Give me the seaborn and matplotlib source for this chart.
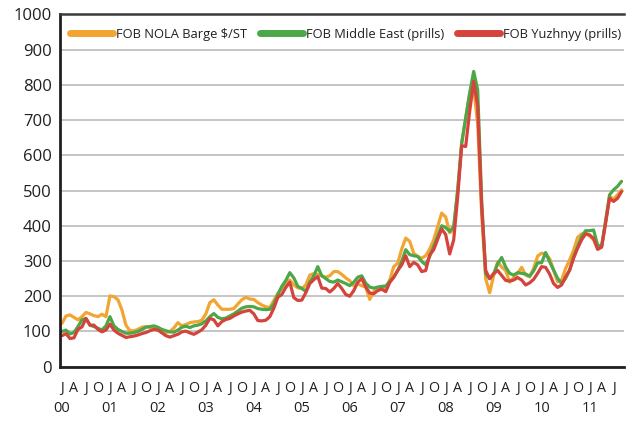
import pandas as pd
import matplotlib.pyplot as plt
import seaborn as sns

# monthly urea prices, Jan 2000 - Sep 2011 ($/t)
months = pd.date_range('2000-01-01', periods=141, freq='MS')

nola = [123, 144, 147, 140, 133, 142, 154, 150, 145, 142, 149, 142,
        201, 199, 190, 161, 118, 102, 102, 106, 112, 114, 112, 109,
        104, 98, 97, 100, 110, 125, 116, 120, 125, 127, 128, 132,
        150, 182, 190, 175, 163, 163, 163, 165, 178, 190, 197, 192,
        191, 182, 175, 170, 168, 188, 208, 222, 238, 246, 232, 224,
        222, 232, 260, 264, 262, 258, 254, 258, 270, 270, 262, 252,
        244, 230, 235, 230, 226, 191, 213, 223, 226, 220, 246, 284,
        294, 334, 365, 356, 322, 313, 308, 315, 334, 360, 398, 436,
        425, 380, 389, 500, 634, 706, 775, 790, 690, 435, 250, 210,
        259, 297, 283, 273, 240, 253, 265, 282, 260, 255, 279, 314,
        322, 320, 307, 274, 241, 246, 279, 303, 331, 367, 377, 379,
        371, 360, 336, 341, 412, 483, 476, 488, 502]

middle_east = [100, 104, 93, 97, 114, 133, 137, 118, 114, 109, 104, 116,
               142, 116, 106, 100, 95, 95, 97, 100, 106, 112, 114, 116,
               112, 106, 102, 99, 98, 104, 112, 115, 111, 116, 118, 122,
               130, 142, 151, 140, 136, 138, 144, 150, 158, 166, 170, 171,
               170, 165, 163, 162, 163, 178, 205, 228, 245, 267, 252, 228,
               222, 214, 240, 258, 284, 258, 250, 242, 240, 246, 241, 236,
               230, 240, 254, 258, 237, 226, 223, 226, 228, 229, 242, 254,
               273, 299, 332, 318, 315, 313, 299, 289, 313, 341, 370, 400,
               395, 384, 398, 501, 634, 706, 777, 838, 786, 473, 264, 250,
               264, 292, 310, 283, 265, 260, 267, 265, 263, 257, 272, 295,
               295, 324, 298, 274, 251, 236, 251, 274, 312, 341, 369, 386,
               386, 388, 345, 341, 412, 488, 502, 512, 526]

yuzhnyy = [88, 94, 80, 82, 106, 113, 137, 118, 118, 106, 99, 104,
           121, 104, 95, 89, 83, 85, 87, 90, 94, 97, 102, 106,
           104, 96, 88, 84, 88, 92, 99, 101, 96, 92, 98, 105,
           118, 137, 133, 116, 128, 134, 137, 144, 150, 155, 158, 160,
           150, 131, 130, 132, 142, 166, 197, 205, 225, 240, 196, 188,
           189, 210, 236, 247, 256, 223, 222, 212, 222, 236, 222, 205,
           200, 216, 240, 250, 226, 209, 207, 216, 220, 213, 239, 254,
           273, 289, 315, 284, 296, 289, 270, 273, 318, 332, 362, 391,
           375, 320, 360, 482, 627, 625, 725, 810, 739, 454, 273, 250,
           264, 273, 259, 245, 243, 246, 253, 246, 232, 238, 248, 265,
           284, 282, 263, 236, 225, 232, 255, 274, 308, 336, 360, 377,
           374, 364, 333, 339, 407, 478, 469, 478, 497]

series_names = ['FOB NOLA Barge $/ST', 'FOB Middle East (prills)',
                'FOB Yuzhnyy (prills)']
colors = ['#F2A530', '#4CA749', '#D5443C']

wide = pd.DataFrame({'month': range(len(months)),
                     series_names[0]: nola,
                     series_names[1]: middle_east,
                     series_names[2]: yuzhnyy})
df = wide.melt(id_vars='month', var_name='series', value_name='price')

sns.set_theme(style='white')
plt.rcParams['font.family'] = ['Open Sans', 'DejaVu Sans']
text_col = '#231f20'

fig, ax = plt.subplots(figsize=(6.38, 4.22), dpi=100)
fig.subplots_adjust(left=0.094, right=0.978, top=0.966, bottom=0.131)

sns.lineplot(data=df, x='month', y='price', hue='series',
             hue_order=series_names, palette=colors, linewidth=2.3, ax=ax)

ax.set_xlim(-0.5, 140.6)
ax.set_ylim(0, 1000)
ax.set_yticks(range(0, 1001, 100))
ax.yaxis.grid(True, color='#b5b5b5', linewidth=1.1)
ax.xaxis.grid(False)
ax.set_axisbelow(True)

# quarterly ticks J A J O; year labels as minor ticks under each January
qticks = list(range(0, len(months), 3))
qlabels = ['JAJO'[(months[m].month - 1) // 3] for m in qticks]
yticks_pos = [m for m in qticks if months[m].month == 1]
ylabels = [months[m].strftime('%y') for m in yticks_pos]
ax.set_xticks(qticks)
ax.set_xticklabels(qlabels)
ax.xaxis.remove_overlapping_locs = False
ax.set_xticks(yticks_pos, minor=True)
ax.set_xticklabels(ylabels, minor=True)

ax.tick_params(axis='x', which='major', direction='in', length=6, width=1.2,
               color='#231f20', pad=10, labelsize=10.3, labelcolor=text_col)
ax.tick_params(axis='x', which='minor', length=0, pad=25, labelsize=10.5,
               labelcolor=text_col)
ax.tick_params(axis='y', length=0, pad=6, labelsize=12, labelcolor=text_col)

for side in ['left', 'bottom']:
    ax.spines[side].set_color('#231f20')
    ax.spines[side].set_linewidth(2)
ax.spines['top'].set_color('#3a3a3a')
ax.spines['top'].set_linewidth(1.8)
ax.spines['right'].set_visible(False)

ax.set_xlabel('')
ax.set_ylabel('')

handles, labels = ax.get_legend_handles_labels()
leg = ax.legend(handles, labels, loc='upper left', bbox_to_anchor=(0.018, 0.962),
                ncol=3, frameon=False, fontsize=9.3, handlelength=3.3,
                handletextpad=0.25, columnspacing=1.0, borderpad=0,
                borderaxespad=0)
for h in leg.legend_handles:
    h.set_linewidth(5)
for t in leg.get_texts():
    t.set_color(text_col)

fig.savefig('out.png', dpi=100)
